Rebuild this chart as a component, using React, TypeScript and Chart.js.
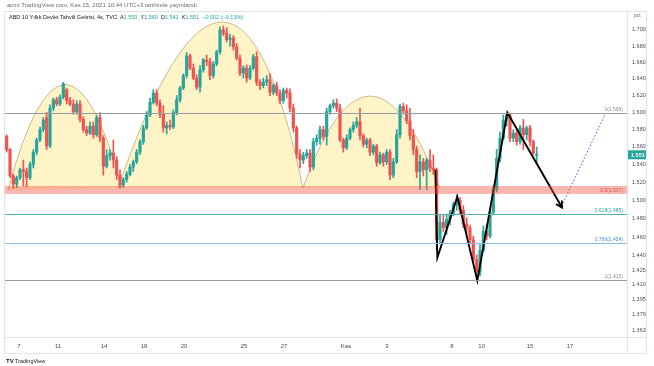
import React, { useEffect, useRef } from 'react';
import { Chart, registerables } from 'chart.js';

Chart.register(...registerables);

// ---- candle data (4h bars, TVC US10Y yield) ----
const openP = [
  1.572, 1.557, 1.527, 1.518, 1.525, 1.534, 1.532, 1.525, 1.540, 1.554,
  1.568, 1.580, 1.594, 1.561, 1.605, 1.615, 1.610, 1.618, 1.627, 1.614,
  1.610, 1.601, 1.610, 1.592, 1.580, 1.576, 1.584, 1.574, 1.594, 1.570,
  1.538, 1.550, 1.553, 1.545, 1.528, 1.517, 1.523, 1.529, 1.537, 1.543,
  1.554, 1.566, 1.582, 1.597, 1.612, 1.623, 1.611, 1.598, 1.582, 1.585,
  1.583, 1.600, 1.615, 1.629, 1.644, 1.668, 1.653, 1.641, 1.630, 1.651,
  1.663, 1.661, 1.644, 1.658, 1.673, 1.700, 1.696, 1.688, 1.690, 1.679,
  1.665, 1.647, 1.653, 1.641, 1.653, 1.667, 1.636, 1.632, 1.636, 1.639,
  1.624, 1.632, 1.623, 1.614, 1.626, 1.623, 1.605, 1.582, 1.552, 1.545,
  1.550, 1.553, 1.537, 1.566, 1.570, 1.580, 1.572, 1.601, 1.608, 1.611,
  1.605, 1.568, 1.559, 1.570, 1.580, 1.585, 1.589, 1.573, 1.563, 1.568,
  1.554, 1.561, 1.542, 1.551, 1.543, 1.554, 1.528, 1.543, 1.574, 1.607,
  1.602, 1.590, 1.573, 1.557, 1.532, 1.543, 1.534, 1.545, 1.536, 1.534,
  1.457, 1.476, 1.470, 1.479, 1.485, 1.495, 1.500, 1.489, 1.474, 1.470,
  1.457, 1.436, 1.423, 1.446, 1.466, 1.461, 1.487, 1.512, 1.547, 1.570,
  1.591, 1.597, 1.570, 1.576, 1.566, 1.582, 1.574, 1.582, 1.566, 1.550,
];
const highP = [
  1.574, 1.558, 1.529, 1.527, 1.536, 1.545, 1.536, 1.543, 1.557, 1.570,
  1.583, 1.594, 1.600, 1.609, 1.617, 1.618, 1.621, 1.636, 1.629, 1.618,
  1.615, 1.614, 1.614, 1.595, 1.584, 1.589, 1.589, 1.597, 1.600, 1.573,
  1.557, 1.557, 1.568, 1.549, 1.534, 1.525, 1.532, 1.540, 1.545, 1.557,
  1.568, 1.585, 1.601, 1.617, 1.627, 1.627, 1.615, 1.608, 1.589, 1.591,
  1.603, 1.620, 1.631, 1.646, 1.672, 1.670, 1.658, 1.645, 1.656, 1.665,
  1.669, 1.665, 1.661, 1.675, 1.704, 1.705, 1.703, 1.695, 1.693, 1.683,
  1.669, 1.656, 1.657, 1.656, 1.670, 1.673, 1.639, 1.641, 1.644, 1.646,
  1.634, 1.636, 1.627, 1.629, 1.629, 1.628, 1.610, 1.584, 1.557, 1.554,
  1.557, 1.557, 1.570, 1.574, 1.584, 1.584, 1.605, 1.610, 1.615, 1.616,
  1.610, 1.570, 1.574, 1.582, 1.589, 1.594, 1.605, 1.575, 1.570, 1.570,
  1.563, 1.563, 1.554, 1.553, 1.557, 1.557, 1.547, 1.580, 1.610, 1.611,
  1.609, 1.605, 1.580, 1.561, 1.551, 1.547, 1.547, 1.557, 1.551, 1.536,
  1.484, 1.484, 1.485, 1.489, 1.498, 1.506, 1.503, 1.494, 1.481, 1.473,
  1.461, 1.441, 1.452, 1.472, 1.474, 1.492, 1.516, 1.557, 1.577, 1.597,
  1.599, 1.599, 1.580, 1.580, 1.585, 1.592, 1.584, 1.585, 1.568, 1.560,
];
const lowP = [
  1.554, 1.525, 1.513, 1.514, 1.523, 1.516, 1.515, 1.523, 1.536, 1.551,
  1.566, 1.577, 1.557, 1.559, 1.602, 1.608, 1.608, 1.616, 1.610, 1.608,
  1.598, 1.598, 1.589, 1.577, 1.573, 1.574, 1.570, 1.572, 1.566, 1.528,
  1.536, 1.545, 1.536, 1.523, 1.513, 1.514, 1.520, 1.527, 1.532, 1.541,
  1.551, 1.563, 1.580, 1.595, 1.610, 1.608, 1.594, 1.577, 1.575, 1.580,
  1.581, 1.597, 1.612, 1.627, 1.641, 1.651, 1.639, 1.627, 1.624, 1.648,
  1.656, 1.639, 1.641, 1.656, 1.670, 1.693, 1.685, 1.680, 1.675, 1.663,
  1.644, 1.641, 1.636, 1.639, 1.651, 1.632, 1.627, 1.629, 1.632, 1.620,
  1.621, 1.620, 1.610, 1.611, 1.617, 1.601, 1.577, 1.547, 1.536, 1.541,
  1.547, 1.532, 1.534, 1.562, 1.563, 1.568, 1.562, 1.598, 1.605, 1.601,
  1.566, 1.554, 1.557, 1.568, 1.577, 1.582, 1.568, 1.560, 1.559, 1.550,
  1.551, 1.538, 1.540, 1.538, 1.540, 1.523, 1.525, 1.541, 1.570, 1.598,
  1.587, 1.568, 1.551, 1.525, 1.512, 1.527, 1.512, 1.532, 1.529, 1.446,
  1.453, 1.466, 1.463, 1.473, 1.483, 1.489, 1.485, 1.470, 1.463, 1.453,
  1.432, 1.415, 1.419, 1.444, 1.457, 1.459, 1.485, 1.509, 1.543, 1.568,
  1.584, 1.566, 1.566, 1.562, 1.563, 1.557, 1.568, 1.561, 1.551, 1.541,
];
const closeP = [
  1.557, 1.527, 1.518, 1.525, 1.534, 1.532, 1.525, 1.540, 1.554, 1.568,
  1.580, 1.591, 1.561, 1.605, 1.615, 1.610, 1.618, 1.634, 1.614, 1.610,
  1.601, 1.610, 1.592, 1.580, 1.576, 1.584, 1.574, 1.594, 1.570, 1.538,
  1.550, 1.553, 1.545, 1.528, 1.517, 1.523, 1.529, 1.537, 1.543, 1.554,
  1.566, 1.582, 1.597, 1.612, 1.623, 1.611, 1.598, 1.582, 1.585, 1.583,
  1.600, 1.615, 1.629, 1.644, 1.668, 1.653, 1.641, 1.630, 1.651, 1.663,
  1.661, 1.644, 1.658, 1.673, 1.700, 1.696, 1.688, 1.690, 1.679, 1.665,
  1.647, 1.653, 1.641, 1.653, 1.667, 1.636, 1.632, 1.636, 1.639, 1.624,
  1.632, 1.623, 1.614, 1.626, 1.623, 1.605, 1.582, 1.552, 1.545, 1.550,
  1.553, 1.537, 1.566, 1.570, 1.580, 1.572, 1.601, 1.608, 1.611, 1.605,
  1.568, 1.559, 1.570, 1.580, 1.585, 1.589, 1.573, 1.563, 1.568, 1.554,
  1.561, 1.542, 1.551, 1.543, 1.554, 1.528, 1.543, 1.574, 1.607, 1.602,
  1.590, 1.573, 1.557, 1.532, 1.543, 1.534, 1.545, 1.536, 1.534, 1.457,
  1.476, 1.470, 1.479, 1.485, 1.495, 1.500, 1.489, 1.474, 1.470, 1.457,
  1.436, 1.423, 1.446, 1.466, 1.461, 1.487, 1.512, 1.547, 1.570, 1.591,
  1.597, 1.570, 1.576, 1.566, 1.582, 1.574, 1.582, 1.566, 1.553, 1.551,
];

// ---- axes ----
const xTickPos = [3.7, 15.4, 29.2, 41.2, 53.2, 71.2, 83.2, 101.8, 114.1, 133.6, 142.5, 157, 169];
const xTickLabels = ['7', '11', '14', '18', '20', '25', '27', 'Kas', '3', '8', '10', '15', '17'];
const yTicks = [1.363, 1.379, 1.395, 1.41, 1.425, 1.44, 1.46, 1.48, 1.5, 1.52, 1.54, 1.56, 1.58, 1.6, 1.62, 1.64, 1.66, 1.68, 1.7];

// ---- fibonacci retracement ----
const fibLevels = [1.599, 1.507, 1.485, 1.454, 1.415];
const fibLabels = ['0(1.599)', '0.5(1.507)', '0.618(1.485)', '0.786(1.454)', '1(1.415)'];
const fibColors = ['#9a9ca5', '#e57373', '#4fb3a9', '#86bdf0', '#9a9ca5'];
const fibTextColors = ['#8a8d96', '#d9534f', '#26a69a', '#4a90d9', '#8a8d96'];
const bandTop = 1.5159;
const bandBottom = 1.507;

// ---- arcs (start / control / end, bar index & yield) ----
const arcStartIdx = [0.4, 33.4, 88.9];
const arcStartVal = [1.5115, 1.5137, 1.5137];
const arcCtrlIdx = [17.5, 68, 108.6];
const arcCtrlVal = [1.7635, 1.9317, 1.7327];
const arcEndIdx = [34.6, 88.9, 130];
const arcEndVal = [1.5137, 1.5137, 1.5137];

// ---- zigzag & projection ----
const zigIdx = [128.6, 129.2, 135.2, 141.2, 150.2, 166.6];
const zigVal = [1.534, 1.438, 1.504, 1.414, 1.600, 1.492];
const projIdx = [166.9, 179.8];
const projVal = [1.497, 1.600];

const lastPrice = 1.551;
const FONT = '"Liberation Sans", Arial, sans-serif';

export default function App() {
  const ref = useRef<HTMLCanvasElement>(null);

  useEffect(() => {
    const canvas = ref.current;
    if (!canvas) return;
    const idx = closeP.map((_, i) => i);
    const colors = idx.map((i) => (closeP[i] >= openP[i] ? '#26a69a' : '#ef5350'));

    const overlay = {
      id: 'overlay',
      beforeDatasetsDraw(chart: any) {
        const { ctx, chartArea: ca, scales } = chart;
        const x = scales.x, y = scales.y;
        ctx.save();
        ctx.beginPath();
        ctx.rect(ca.left, ca.top, ca.right - ca.left, ca.bottom - ca.top);
        ctx.clip();
        for (let k = 0; k < arcStartIdx.length; k++) {
          const x0 = x.getPixelForValue(arcStartIdx[k]);
          const y0 = y.getPixelForValue(arcStartVal[k]);
          const xc = x.getPixelForValue(arcCtrlIdx[k]);
          const yc = y.getPixelForValue(arcCtrlVal[k]);
          const x1 = x.getPixelForValue(arcEndIdx[k]);
          const y1 = y.getPixelForValue(arcEndVal[k]);
          ctx.beginPath();
          ctx.moveTo(x0, y0);
          ctx.quadraticCurveTo(xc, yc, x1, y1);
          ctx.closePath();
          ctx.fillStyle = 'rgba(255, 228, 125, 0.42)';
          ctx.fill();
          ctx.beginPath();
          ctx.moveTo(x0, y0);
          ctx.quadraticCurveTo(xc, yc, x1, y1);
          ctx.strokeStyle = '#cdb987';
          ctx.lineWidth = 1;
          ctx.stroke();
        }
        ctx.restore();
      },
      afterDatasetsDraw(chart: any) {
        const { ctx, chartArea: ca, scales } = chart;
        const x = scales.x, y = scales.y;
        ctx.save();
        // red band
        const bt = y.getPixelForValue(bandTop);
        const bb = y.getPixelForValue(bandBottom);
        ctx.fillStyle = 'rgba(242, 80, 70, 0.42)';
        ctx.fillRect(ca.left, bt, ca.right - ca.left, bb - bt);
        // fib lines
        for (let k = 0; k < fibLevels.length; k++) {
          if (k === 1) continue;
          const py = Math.round(y.getPixelForValue(fibLevels[k])) + 0.5;
          ctx.strokeStyle = fibColors[k];
          ctx.lineWidth = 1;
          ctx.beginPath();
          ctx.moveTo(ca.left, py);
          ctx.lineTo(ca.right, py);
          ctx.stroke();
        }
        ctx.font = `5px ${FONT}`;
        ctx.textAlign = 'right';
        ctx.textBaseline = 'bottom';
        for (let k = 0; k < fibLevels.length; k++) {
          const py = y.getPixelForValue(fibLevels[k]);
          ctx.fillStyle = fibTextColors[k];
          ctx.fillText(fibLabels[k], ca.right - 4, py - 1);
        }
        // arrowhead on zigzag end
        const n = zigIdx.length;
        const ex = x.getPixelForValue(zigIdx[n - 1]);
        const ey = y.getPixelForValue(zigVal[n - 1]);
        const sx = x.getPixelForValue(zigIdx[n - 2]);
        const sy = y.getPixelForValue(zigVal[n - 2]);
        const ang = Math.atan2(ey - sy, ex - sx);
        ctx.strokeStyle = '#000';
        ctx.lineWidth = 1.8;
        ctx.beginPath();
        ctx.moveTo(ex - 7 * Math.cos(ang - 0.5), ey - 7 * Math.sin(ang - 0.5));
        ctx.lineTo(ex, ey);
        ctx.lineTo(ex - 7 * Math.cos(ang + 0.5), ey - 7 * Math.sin(ang + 0.5));
        ctx.stroke();
        ctx.restore();
      },
      afterDraw(chart: any) {
        const { ctx, chartArea: ca, scales } = chart;
        const y = scales.y;
        ctx.save();
        // frame
        ctx.strokeStyle = '#e0e3eb';
        ctx.lineWidth = 1;
        ctx.beginPath();
        ctx.rect(4.5, 11.5, 642, 342);
        ctx.moveTo(ca.right + 0.5, 11.5);
        ctx.lineTo(ca.right + 0.5, 353.5);
        ctx.moveTo(4.5, ca.bottom + 0.5);
        ctx.lineTo(646.5, ca.bottom + 0.5);
        ctx.stroke();
        // price badge
        const py = y.getPixelForValue(lastPrice);
        ctx.fillStyle = '#26a69a';
        ctx.fillRect(ca.right + 1, py - 4.5, 18, 9);
        ctx.fillStyle = '#ffffff';
        ctx.font = `bold 5.5px ${FONT}`;
        ctx.textAlign = 'left';
        ctx.textBaseline = 'middle';
        ctx.fillText(lastPrice.toFixed(3), ca.right + 4, py + 0.3);
        // pct label
        ctx.fillStyle = '#6a6d78';
        ctx.font = `5px ${FONT}`;
        ctx.fillText('pct', ca.right + 7, 16);
        // top line
        ctx.fillStyle = '#6a6d78';
        ctx.font = `6px ${FONT}`;
        ctx.fillText('acmi TradingView.com, Kas 15, 2021 10:44 UTC+3 tarihinde yayınlandı', 7, 5);
        // title
        let tx = 9;
        const ty = 17;
        ctx.font = `5.5px ${FONT}`;
        const parts: [string, string][] = [
          ['ABD 10 Yıllık Devlet Tahvili Getirisi, 4s, TVC  ', '#131722'],
          ['A', '#131722'], ['1.550  ', '#26a69a'],
          ['Y', '#131722'], ['1.560  ', '#26a69a'],
          ['D', '#131722'], ['1.541  ', '#26a69a'],
          ['K', '#131722'], ['1.551  ', '#26a69a'],
          ['−0.002 (−0.13%)', '#26a69a'],
        ];
        for (const [t, c] of parts) {
          ctx.fillStyle = c;
          ctx.fillText(t, tx, ty);
          tx += ctx.measureText(t).width;
        }
        // logo
        ctx.fillStyle = '#131722';
        ctx.font = `bold 6px ${FONT}`;
        ctx.fillText('TV', 6, 361);
        ctx.font = `5.5px ${FONT}`;
        ctx.fillText('TradingView', 15, 361);
        ctx.restore();
      },
    };

    const chart = new Chart(canvas, {
      type: 'bar',
      data: {
        datasets: [
          {
            type: 'line',
            data: zigIdx.map((v, i) => ({ x: v, y: zigVal[i] })),
            borderColor: '#000000',
            borderWidth: 1.9,
            pointRadius: 0,
            order: 1,
          } as any,
          {
            type: 'line',
            data: projIdx.map((v, i) => ({ x: v, y: projVal[i] })),
            borderColor: '#2962ff',
            borderWidth: 1,
            borderDash: [1.5, 2],
            pointRadius: 0,
            order: 2,
          } as any,
          {
            type: 'bar',
            data: idx.map((i) => ({ x: i, y: [openP[i], closeP[i]] })),
            backgroundColor: colors,
            barThickness: 2.5,
            minBarLength: 1,
            grouped: false,
            borderWidth: 0,
            order: 3,
          } as any,
          {
            type: 'bar',
            data: idx.map((i) => ({ x: i, y: [lowP[i], highP[i]] })),
            backgroundColor: colors,
            barThickness: 1,
            grouped: false,
            borderWidth: 0,
            order: 4,
          } as any,
        ],
      },
      options: {
        animation: false,
        responsive: false,
        maintainAspectRatio: false,
        devicePixelRatio: 1,
        layout: { padding: { left: 5, top: 12, right: 8, bottom: 13 } },
        plugins: { legend: { display: false }, tooltip: { enabled: false } },
        scales: {
          x: {
            type: 'linear',
            min: -0.5,
            max: 186.1,
            offset: false,
            grid: { display: false, drawTicks: false },
            border: { display: false },
            ticks: {
              autoSkip: false,
              maxRotation: 0,
              padding: 6,
              color: '#4a4d57',
              font: { size: 6, family: FONT },
              callback: (v: any) => {
                const k = xTickPos.indexOf(Number(v));
                return k >= 0 ? xTickLabels[k] : '';
              },
            },
            afterBuildTicks: (s: any) => {
              s.ticks = xTickPos.map((v) => ({ value: v }));
            },
            afterFit: (s: any) => {
              s.height = 16;
            },
          },
          y: {
            type: 'logarithmic',
            position: 'right',
            min: 1.3566,
            max: 1.7226,
            grid: { display: false, drawTicks: false },
            border: { display: false },
            ticks: {
              autoSkip: false,
              padding: 5,
              color: '#4a4d57',
              font: { size: 5.5, family: FONT },
              callback: (v: any) => Number(v).toFixed(3),
            },
            afterBuildTicks: (s: any) => {
              s.ticks = yTicks.map((v) => ({ value: v }));
            },
            afterFit: (s: any) => {
              s.width = 19;
            },
          },
        },
      } as any,
      plugins: [overlay],
    });
    return () => chart.destroy();
  }, []);

  return (
    <div style={{ position: 'fixed', left: 0, top: 0, width: 654, height: 366, background: '#ffffff' }}>
      <canvas ref={ref} width={654} height={366} style={{ display: 'block', width: 654, height: 366 }} />
    </div>
  );
}
